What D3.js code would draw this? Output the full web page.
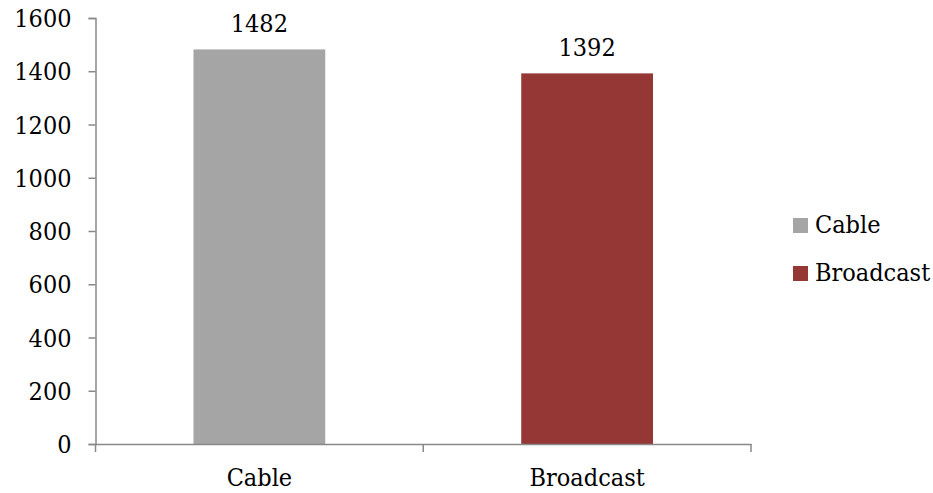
<!DOCTYPE html>
<html><head><meta charset="utf-8">
<script src="https://cdn.jsdelivr.net/npm/d3@7"></script>
<style>body{margin:0;background:#fff;} text{font-family:"DejaVu Serif Condensed","DejaVu Serif",serif;}</style>
</head><body>
<svg id="c" width="933" height="493"></svg>
<script>
const categories = ["Cable", "Broadcast"];
const values = [1482, 1392];
const colors = ["#A5A5A5", "#953735"];
const yTicks = [0, 200, 400, 600, 800, 1000, 1200, 1400, 1600];

(function () {
const svg = d3.select("#c");
const mLeft = 95.5, mRight = 751, mTop = 18, mBottom = 444;
const x = d3.scaleBand().domain(categories).range([mLeft, mRight]).padding(0);
const y = d3.scaleLinear().domain([0, 1600]).range([mBottom, mTop]);
const axisColor = "#898989";
const fs = 25;
const ff = '"DejaVu Serif Condensed","DejaVu Serif",serif';

// Y axis
const ya = svg.append("g").attr("transform", `translate(${mLeft},0)`)
  .call(d3.axisLeft(y).tickValues(yTicks).tickSize(7).tickPadding(17).tickFormat(d3.format("d")));
ya.select(".domain").attr("stroke", axisColor).attr("stroke-width", 1.5);
ya.selectAll(".tick line").attr("stroke", axisColor).attr("stroke-width", 1.5);
ya.selectAll(".tick text").attr("font-size", fs).attr("fill", "#000").attr("font-family", ff).attr("dy", "0.34em");

// bars
const bw = x.bandwidth() * 0.402;
svg.selectAll("rect.bar").data(categories).enter().append("rect")
  .attr("class", "bar")
  .attr("x", d => x(d) + (x.bandwidth() - bw) / 2)
  .attr("y", (d, i) => y(values[i]))
  .attr("width", bw)
  .attr("height", (d, i) => y(0) - y(values[i]))
  .attr("fill", (d, i) => colors[i]);

// value labels
svg.selectAll("text.val").data(categories).enter().append("text")
  .attr("class", "val")
  .attr("x", d => x(d) + x.bandwidth() / 2)
  .attr("y", (d, i) => y(values[i]) - 17)
  .attr("text-anchor", "middle").attr("font-size", fs).attr("fill", "#000")
  .text((d, i) => values[i]);

// X axis
const xa = svg.append("g").attr("transform", `translate(0,${mBottom})`)
  .call(d3.axisBottom(x).tickSize(0).tickPadding(24));
xa.select(".domain").attr("stroke", axisColor).attr("stroke-width", 1.5);
xa.selectAll(".tick text").attr("font-size", fs).attr("fill", "#000").attr("font-family", ff).attr("dy", "0.71em");
// boundary ticks
const bounds = [mLeft, mLeft + x.step(), mRight];
svg.selectAll("line.xt").data(bounds).enter().append("line")
  .attr("x1", d => d).attr("x2", d => d)
  .attr("y1", mBottom).attr("y2", mBottom + 8)
  .attr("stroke", axisColor).attr("stroke-width", 1.5);

// legend
const lg = svg.append("g").attr("transform", "translate(793,218)");
categories.forEach((c, i) => {
  const g = lg.append("g").attr("transform", `translate(0,${i * 48})`);
  g.append("rect").attr("width", 15).attr("height", 15).attr("fill", colors[i]);
  g.append("text").attr("x", 22).attr("y", 15).attr("font-size", fs).attr("fill", "#000").text(c);
});
})();
</script>
</body></html>
